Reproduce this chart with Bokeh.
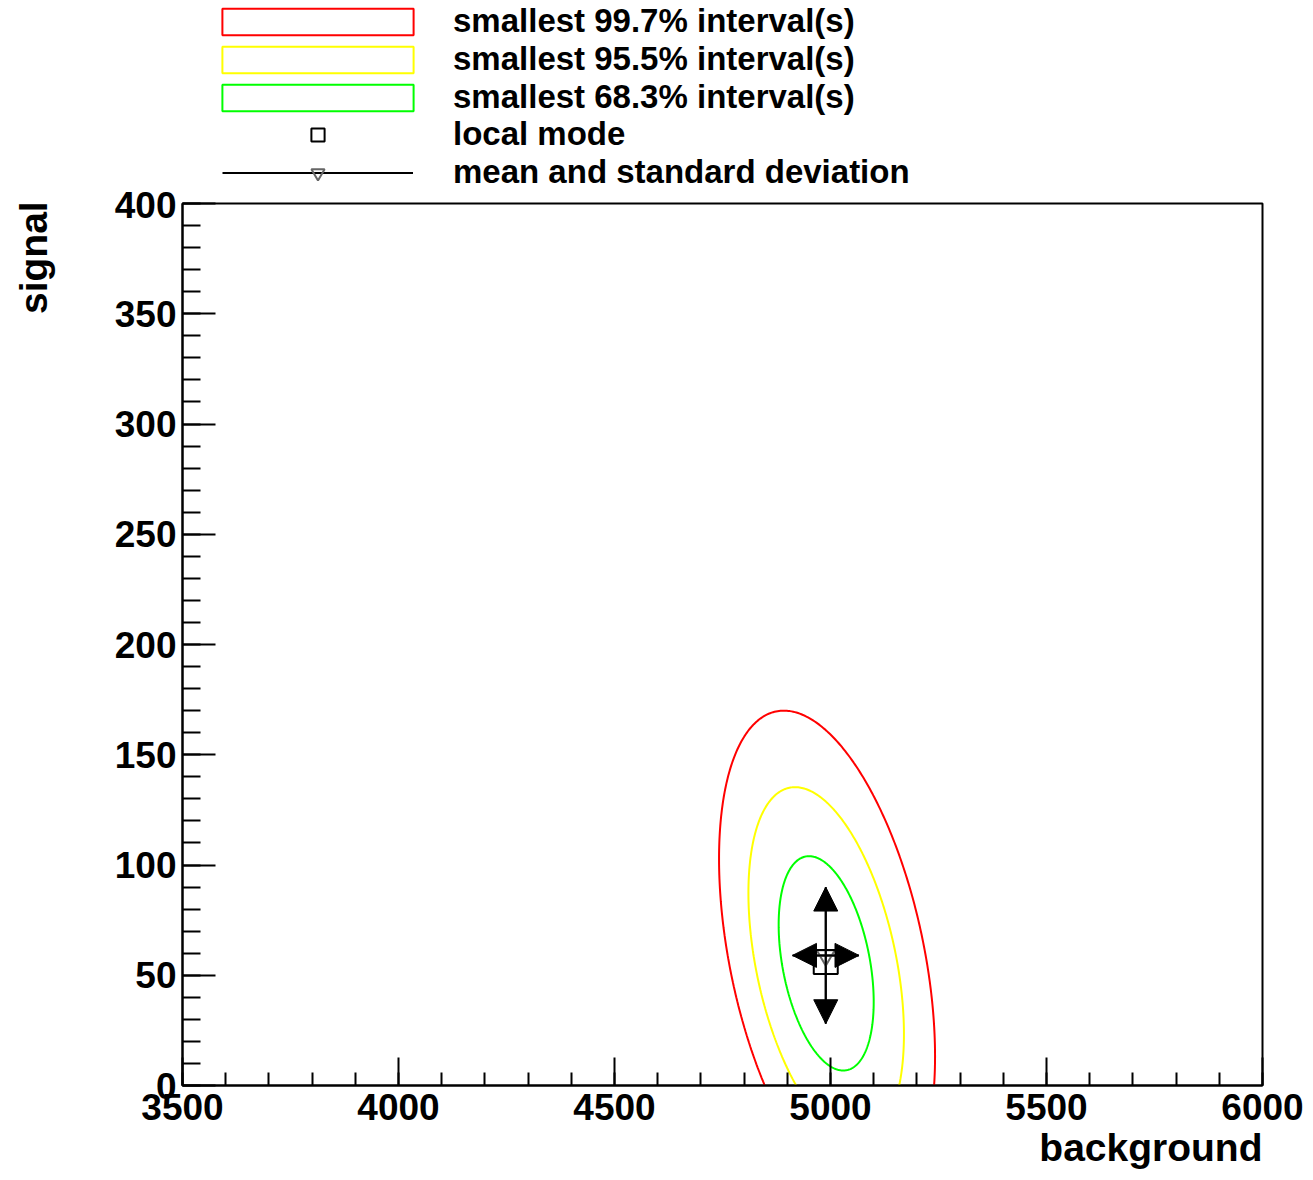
import numpy as np
from bokeh.plotting import figure
from bokeh.layouts import column
from bokeh.models import (Range1d, SingleIntervalTicker, Legend, LegendItem, Title,
                          Arrow, NormalHead, ColumnDataSource)
from bokeh.embed import file_html
from bokeh.resources import INLINE

# ---- data ----
levels = ["smallest 99.7% interval(s)", "smallest 95.5% interval(s)", "smallest 68.3% interval(s)"]
level_colors = ["#ff0000", "#ffff00", "#00ff00"]
contour_cx = [4992, 4990, 4990]      # centre (background)
contour_cy = [58.0, 55.3, 55.4]      # centre (signal)
contour_ax = [250, 180, 110]         # half extent along background
contour_by = [112, 80, 48.6]         # half extent along signal
contour_rho = [-0.40, -0.40, -0.36]  # tilt (correlation)

mode_x, mode_y = [4989], [56]
mean_x, mean_y = 4989, 59
sd_x, sd_y = 77, 31

x_ticks_interval, y_ticks_interval = 500, 50

FONT = "Liberation Sans"
MEAN_COLOR = "#666666"
W = 1313
LEG_H = 191

t = np.linspace(0, 2 * np.pi, 400)
contours = []
for cx, cy, a, b, r in zip(contour_cx, contour_cy, contour_ax, contour_by, contour_rho):
    xs = cx + a * np.cos(t)
    ys = cy + b * (r * np.cos(t) + np.sqrt(1 - r * r) * np.sin(t))
    contours.append((xs, ys))
err_x0 = [mean_x - sd_x, mean_x]
err_y0 = [mean_y, mean_y - sd_y]
err_x1 = [mean_x + sd_x, mean_x]
err_y1 = [mean_y, mean_y + sd_y]


def draw_marks(fig):
    """Draw all data marks on a figure; returns renderers (for legend use)."""
    pr = [fig.patch(xs, ys, fill_color=None, line_color=col, line_width=2)
          for (xs, ys), col in zip(contours, level_colors)]
    sr = fig.segment(x0=err_x0, y0=err_y0, x1=err_x1, y1=err_y1,
                     line_color="black", line_width=2)
    mr = fig.scatter([mean_x], [mean_y], marker="inverted_triangle", size=18,
                     fill_color=None, line_color=MEAN_COLOR, line_width=2)
    qr = fig.scatter(mode_x, mode_y, marker="square", size=24, fill_color=None,
                     line_color="black", line_width=2)
    return pr, sr, mr, qr


p = figure(width=W, height=1180 - LEG_H, output_backend="svg", toolbar_location=None,
           x_range=Range1d(3500, 6000), y_range=Range1d(0, 400),
           min_border_left=182, min_border_right=W - 1262, min_border_top=12, min_border_bottom=95)
p.background_fill_color = "white"
p.border_fill_color = "white"
p.outline_line_color = "black"
p.outline_line_width = 2
p.xgrid.visible = False
p.ygrid.visible = False

draw_marks(p)
arr_src = ColumnDataSource(dict(xs=[mean_x] * 4, ys=[mean_y] * 4,
                                xe=[err_x0[0], err_x1[0], err_x0[1], err_x1[1]],
                                ye=[err_y0[0], err_y1[0], err_y0[1], err_y1[1]]))
p.add_layout(Arrow(end=NormalHead(size=24, fill_color="black", line_color="black"),
                   x_start="xs", y_start="ys", x_end="xe", y_end="ye", source=arr_src,
                   line_color="black", line_width=2))

# axes
for ax in (p.xaxis[0], p.yaxis[0]):
    ax.axis_line_width = 2
    ax.major_tick_line_width = 2
    ax.minor_tick_line_width = 2
    ax.major_tick_out = 0
    ax.minor_tick_out = 0
    ax.major_label_text_font = FONT
    ax.major_label_text_font_style = "bold"
    ax.major_label_text_font_size = "37px"
    ax.major_label_text_color = "black"
p.xaxis.ticker = SingleIntervalTicker(interval=x_ticks_interval, num_minor_ticks=5)
p.yaxis.ticker = SingleIntervalTicker(interval=y_ticks_interval, num_minor_ticks=5)
p.xaxis.major_tick_in = 28
p.xaxis.minor_tick_in = 13
p.yaxis.major_tick_in = 33
p.yaxis.minor_tick_in = 18
p.xaxis.major_label_standoff = 8
p.yaxis.major_label_standoff = 6

# y title: placed at the top end of the axis (padded so that the word ends at the top)
p.yaxis.axis_label = "signal" + "\u00a0" * 10
p.yaxis.axis_label_text_font = FONT
p.yaxis.axis_label_text_font_style = "bold"
p.yaxis.axis_label_text_font_size = "39px"
p.yaxis.axis_label_text_color = "black"
p.yaxis.axis_label_standoff = 57
try:
    p.yaxis.axis_label_align = "end"
except Exception:
    pass

# x title, aligned to the right end of the axis
xt = Title(text="background", align="right", text_font=FONT, text_font_style="bold",
           text_font_size="39px", text_color="black")
try:
    xt.standoff = 2
except Exception:
    pass
p.add_layout(xt, "below")

# ---- legend panel (separate figure above the plot; same marks, out of its view) ----
lf = figure(width=W, height=LEG_H, output_backend="svg", toolbar_location=None,
            x_range=Range1d(0, 1), y_range=Range1d(0, 1), x_axis_type=None, y_axis_type=None,
            min_border=0)
lf.outline_line_color = None
lf.xgrid.visible = False
lf.ygrid.visible = False
lf.background_fill_color = "white"
lf.border_fill_color = "white"
box_rs, seg_lr, mean_lr, mode_lr = draw_marks(lf)


def style_legend(lg):
    lg.label_text_font = FONT
    lg.label_text_font_style = "bold"
    lg.label_text_font_size = "33px"
    lg.label_text_color = "black"
    lg.padding = 0
    lg.margin = 0
    lg.spacing = 0
    lg.border_line_color = None
    lg.background_fill_alpha = 0


leg1 = Legend(items=[LegendItem(label=l, renderers=[r]) for l, r in zip(levels, box_rs)],
              location=(16, 75), glyph_width=239, glyph_height=33, label_standoff=16)
style_legend(leg1)
leg2 = Legend(items=[LegendItem(label="local mode", renderers=[mode_lr]),
                     LegendItem(label="mean and standard deviation", renderers=[seg_lr, mean_lr])],
              location=(40, 0), glyph_width=191, glyph_height=33, label_standoff=40)
style_legend(leg2)
lf.add_layout(leg1)
lf.add_layout(leg2)

layout = column(lf, p, spacing=0)
open("out.html", "w").write(file_html(layout, INLINE))
